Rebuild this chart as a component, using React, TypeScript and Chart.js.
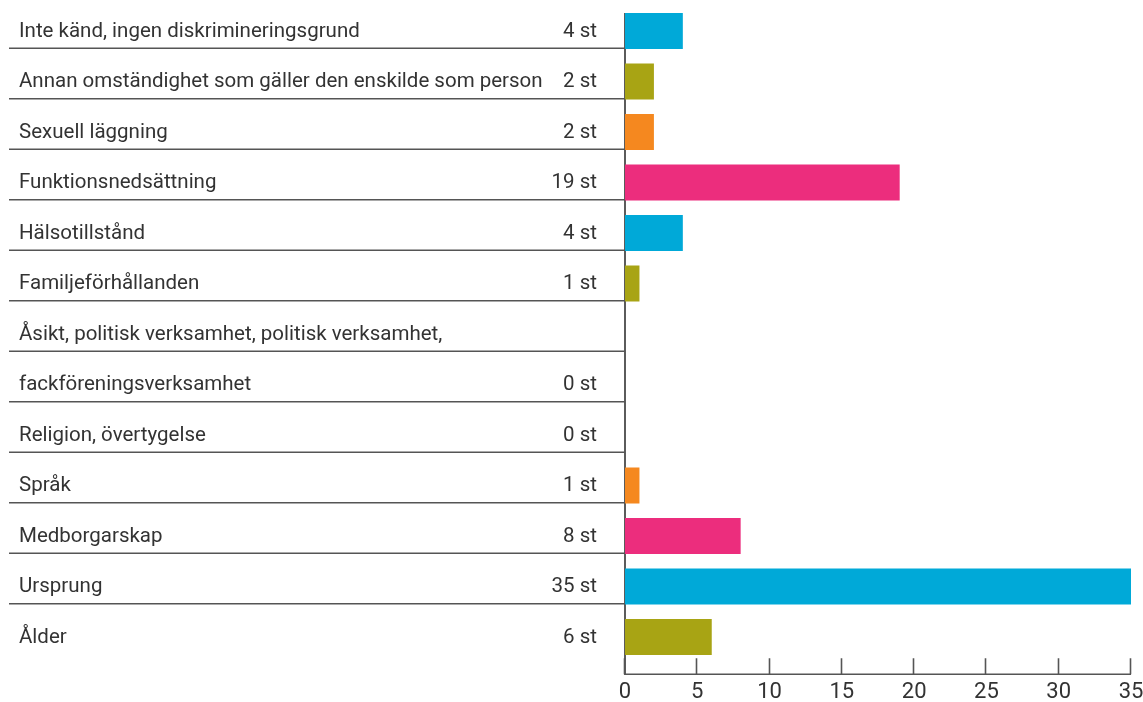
import React, { useEffect, useRef } from "react";
import { Chart, registerables } from "chart.js";

Chart.register(...registerables);

const categories: string[] = [
  "Inte känd, ingen diskrimineringsgrund",
  "Annan omständighet som gäller den enskilde som person",
  "Sexuell läggning",
  "Funktionsnedsättning",
  "Hälsotillstånd",
  "Familjeförhållanden",
  "Åsikt, politisk verksamhet, politisk verksamhet,",
  "fackföreningsverksamhet",
  "Religion, övertygelse",
  "Språk",
  "Medborgarskap",
  "Ursprung",
  "Ålder",
];

const values: (number | null)[] = [4, 2, 2, 19, 4, 1, null, 0, 0, 1, 8, 35, 6];

const barColors: string[] = [
  "#00A9D8", "#A8A414", "#F5881F", "#EC2D7D", "#00A9D8", "#A8A414",
  "#F5881F", "#EC2D7D", "#A8A414", "#F5881F", "#EC2D7D", "#00A9D8", "#A8A414",
];

const xTicks: number[] = [0, 5, 10, 15, 20, 25, 30, 35];

const valueLabels: string[] = values.map((v) => (v === null ? "" : `${v} st`));

const FONT = "Roboto, 'Open Sans', sans-serif";
const TEXT = "#333333";

const tablePlugin = {
  id: "tablePlugin",
  beforeDatasetsDraw(chart: any) {
    const { ctx, chartArea, scales } = chart;
    const x = scales.x;
    const y = scales.y;
    const base = chartArea.bottom + 12;
    ctx.save();
    ctx.strokeStyle = "#333";
    ctx.lineWidth = 1.6;
    ctx.beginPath();
    ctx.moveTo(x.left, y.getPixelForValue(0) - 18);
    ctx.lineTo(x.left, base + 0.8);
    ctx.stroke();
    ctx.strokeStyle = "#555";
    ctx.lineWidth = 1.6;
    ctx.beginPath();
    ctx.moveTo(x.left, base);
    ctx.lineTo(x.right, base);
    ctx.stroke();
    xTicks.forEach((t) => {
      const px = Math.round(x.getPixelForValue(t)) - 0.5;
      ctx.beginPath();
      ctx.moveTo(px, base);
      ctx.lineTo(px, base - 16);
      ctx.stroke();
    });
    ctx.restore();
  },
  afterDraw(chart: any) {
    const { ctx, scales } = chart;
    const x = scales.x;
    const y = scales.y;
    ctx.save();
    ctx.strokeStyle = "#555";
    ctx.lineWidth = 1.5;
    for (let k = 0; k < categories.length - 1; k++) {
      const sy = (y.getPixelForValue(k) + y.getPixelForValue(k + 1)) / 2 - 8;
      ctx.beginPath();
      ctx.moveTo(9, sy);
      ctx.lineTo(x.left, sy);
      ctx.stroke();
    }
    ctx.fillStyle = TEXT;
    ctx.font = `20.5px ${FONT}`;
    ctx.textBaseline = "middle";
    categories.forEach((c, i) => {
      const ty = y.getPixelForValue(i) + 0.5;
      ctx.textAlign = "left";
      ctx.fillText(c, 19, ty);
      ctx.textAlign = "right";
      ctx.fillText(valueLabels[i], 597, ty);
    });
    ctx.restore();
  },
};

export default function App() {
  const ref = useRef<HTMLCanvasElement | null>(null);
  useEffect(() => {
    if (!ref.current) return;
    const chart = new Chart(ref.current, {
      type: "bar",
      data: {
        labels: categories,
        datasets: [
          {
            data: values as any,
            backgroundColor: barColors,
            borderWidth: 0,
            barPercentage: 0.71,
            categoryPercentage: 1,
          },
        ],
      },
      options: {
        indexAxis: "y",
        animation: false,
        responsive: true,
        maintainAspectRatio: false,
        layout: { padding: { left: 625, right: 12, top: 5.75, bottom: 0 } },
        plugins: { legend: { display: false }, tooltip: { enabled: false } },
        scales: {
          y: { display: false },
          x: {
            min: 0,
            max: 35,
            afterFit: (s: any) => {
              s.height = 39.75;
              s.paddingLeft = 0;
              s.paddingRight = 0;
            },
            afterBuildTicks: (s: any) => {
              s.ticks = xTicks.map((v) => ({ value: v }));
            },
            grid: { display: false, drawTicks: false },
            border: { display: false },
            ticks: {
              padding: 17,
              color: TEXT,
              font: { family: FONT, size: 22 },
              maxRotation: 0,
            },
          },
        },
      },
      plugins: [tablePlugin],
    });
    return () => chart.destroy();
  }, []);
  return (
    <div style={{ position: "fixed", left: 0, top: 0, width: 1143, height: 702, background: "#fff" }}>
      <canvas ref={ref} />
    </div>
  );
}
